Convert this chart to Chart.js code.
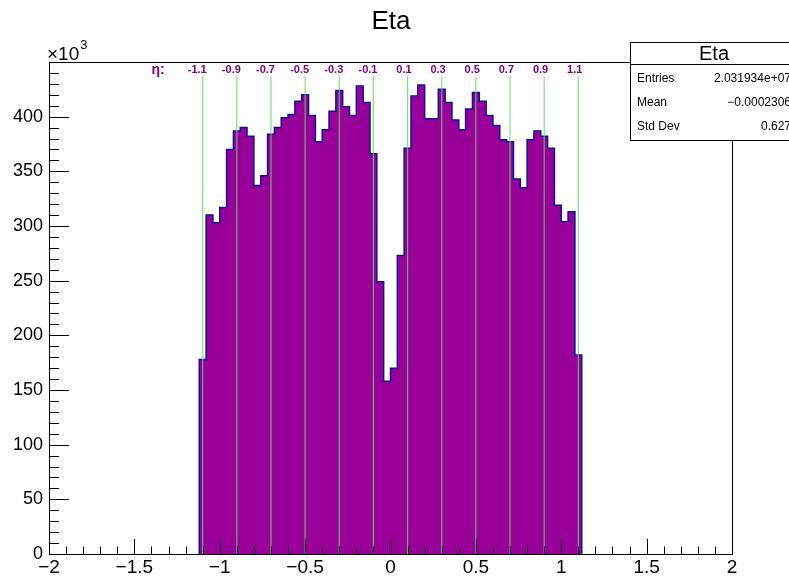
<!DOCTYPE html>
<html>
<head>
<meta charset="utf-8">
<script src="https://cdn.jsdelivr.net/npm/chart.js@4.4.0/dist/chart.umd.min.js"></script>
<style>
  body { margin: 0; background: #fff; }
  #wrap { width: 789px; height: 578px; }
</style>
</head>
<body>
<div id="wrap"><canvas id="myChart" width="789" height="578"></canvas></div>
<script>
// histogramme Eta : 56 bins de largeur 0.04 entre -1.12 et 1.12 (en milliers d'entrees)
var binLow = -1.12;
var binWidth = 0.04;
var counts = [178, 310, 303, 317, 370, 387, 390, 382, 337, 346, 384, 390, 399, 402,
              414, 420, 401, 377, 388, 405, 424, 409, 401, 428, 413, 366, 249, 158,
              170, 273, 371, 419, 429, 398, 398, 425, 413, 397, 388, 407, 422, 414,
              401, 392, 379, 377, 343, 335, 379, 387, 382, 371, 319, 304, 313, 182];

// lignes vertes et leurs etiquettes
var etaLines = [-1.1, -0.9, -0.7, -0.5, -0.3, -0.1, 0.1, 0.3, 0.5, 0.7, 0.9, 1.1];
var etaLineTop = 437;

// boite de stats
var statsTitle = 'Eta';
var statsNames = ['Entries', 'Mean', 'Std Dev'];
var statsValues = ['2.031934e+07', '\u22120.0002306', '0.627'];

var xMin = -2, xMax = 2, xStep = 0.5, xMinor = 0.1;
var yMin = 0, yMax = 450, yStep = 50, yMinor = 10;

var FONT = '"Liberation Sans", Arial, Helvetica, sans-serif';

// contour en escalier
var histPoints = [{x: binLow, y: 0}];
for (var i = 0; i < counts.length; i++) {
  histPoints.push({x: binLow + i * binWidth, y: counts[i]});
}
histPoints.push({x: binLow + counts.length * binWidth, y: counts[counts.length - 1]});
histPoints.push({x: binLow + counts.length * binWidth, y: 0});

var datasets = [];
for (var j = 0; j < etaLines.length; j++) {
  datasets.push({
    data: [{x: etaLines[j], y: 0}, {x: etaLines[j], y: etaLineTop}],
    borderColor: 'rgba(90,225,90,0.8)',
    borderWidth: 1.2,
    pointRadius: 0,
    fill: false,
    order: 1
  });
}
datasets.push({
  data: histPoints,
  stepped: true,
  borderColor: '#1010a0',
  borderWidth: 1.5,
  backgroundColor: '#990099',
  fill: 'origin',
  pointRadius: 0,
  order: 2
});

function fmtMinus(v) {
  var s = String(Math.round(v * 10) / 10);
  return s.replace('-', '\u2212');
}

var decor = {
  id: 'decor',
  afterDraw: function (chart) {
    var c = chart.ctx;
    var a = chart.chartArea;
    var xs = chart.scales.x, ys = chart.scales.y;
    c.save();
    c.strokeStyle = '#000';
    c.lineWidth = 1;
    // cadre
    c.strokeRect(Math.round(a.left) + 0.5, Math.round(a.top) + 0.5,
                 Math.round(a.right - a.left), Math.round(a.bottom - a.top));
    // graduations x
    c.beginPath();
    var n = Math.round((xMax - xMin) / xMinor);
    for (var k = 0; k <= n; k++) {
      var v = xMin + k * xMinor;
      var px = Math.round(xs.getPixelForValue(v)) + 0.5;
      var len = (k % 5 === 0) ? 15 : 7.5;
      c.moveTo(px, a.bottom);
      c.lineTo(px, a.bottom - len);
    }
    // graduations y
    var m = Math.round((yMax - yMin) / yMinor);
    for (var k2 = 0; k2 <= m; k2++) {
      var vy = yMin + k2 * yMinor;
      var py = Math.round(ys.getPixelForValue(vy)) + 0.5;
      var len2 = (k2 % 5 === 0) ? 20 : 10;
      c.moveTo(a.left, py);
      c.lineTo(a.left + len2, py);
    }
    c.stroke();

    // titre
    c.fillStyle = '#000';
    c.font = '26px ' + FONT;
    c.textAlign = 'center';
    c.textBaseline = 'middle';
    c.fillText('Eta', 391, 22);

    // x10^3
    c.textAlign = 'left';
    c.textBaseline = 'alphabetic';
    c.font = '19px ' + FONT;
    c.fillText('\u00d710', 47, 60);
    var w = c.measureText('\u00d710').width;
    c.font = '13px ' + FONT;
    c.fillText('3', 47 + w + 1, 49);

    // etiquettes eta
    c.fillStyle = '#800080';
    c.font = 'bold 14px ' + FONT;
    c.textAlign = 'center';
    c.textBaseline = 'middle';
    c.fillText('\u03b7:', 158, 70);
    c.font = 'bold 11px ' + FONT;
    c.textAlign = 'right';
    for (var e = 0; e < etaLines.length; e++) {
      var lx = xs.getPixelForValue(etaLines[e]);
      c.fillText(String(etaLines[e]), lx + 4, 70);
    }

    // boite de stats
    var bx = 630, by = 42, bw = 170, bh = 98;
    c.fillStyle = '#fff';
    c.fillRect(bx, by, bw, bh);
    c.strokeStyle = '#000';
    c.strokeRect(bx + 0.5, by + 0.5, bw, bh);
    c.beginPath();
    c.moveTo(bx, 64.5);
    c.lineTo(bx + bw, 64.5);
    c.stroke();
    c.fillStyle = '#000';
    c.font = '20px ' + FONT;
    c.textAlign = 'center';
    c.fillText(statsTitle, 714, 54);
    c.font = '12px ' + FONT;
    var rows = [79, 103, 127];
    for (var r = 0; r < statsNames.length; r++) {
      c.textAlign = 'left';
      c.fillText(statsNames[r], 637, rows[r]);
      c.textAlign = 'right';
      c.fillText(statsValues[r], 791, rows[r]);
    }
    c.restore();
  }
};

new Chart(document.getElementById('myChart'), {
  type: 'line',
  data: { datasets: datasets },
  options: {
    responsive: false,
    animation: false,
    events: [],
    layout: { padding: { left: 0, right: 57, top: 62, bottom: 0 } },
    plugins: { legend: { display: false }, title: { display: false }, tooltip: { enabled: false } },
    scales: {
      x: {
        type: 'linear',
        min: xMin, max: xMax,
        grid: { display: false, drawTicks: false },
        border: { display: false },
        ticks: {
          stepSize: xStep,
          padding: 2,
          color: '#000',
          font: { family: FONT, size: 19 },
          maxRotation: 0,
          autoSkip: false,
          callback: function (v) { return fmtMinus(v); }
        },
        afterFit: function (s) { s.height = 24; }
      },
      y: {
        min: yMin, max: yMax,
        grid: { display: false, drawTicks: false },
        border: { display: false },
        ticks: {
          stepSize: yStep,
          padding: 6,
          color: '#000',
          font: { family: FONT, size: 18 },
          callback: function (v) { return v >= yMax ? '' : String(v); }
        },
        afterFit: function (s) { s.width = 49; }
      }
    }
  },
  plugins: [decor]
});
</script>
</body>
</html>
